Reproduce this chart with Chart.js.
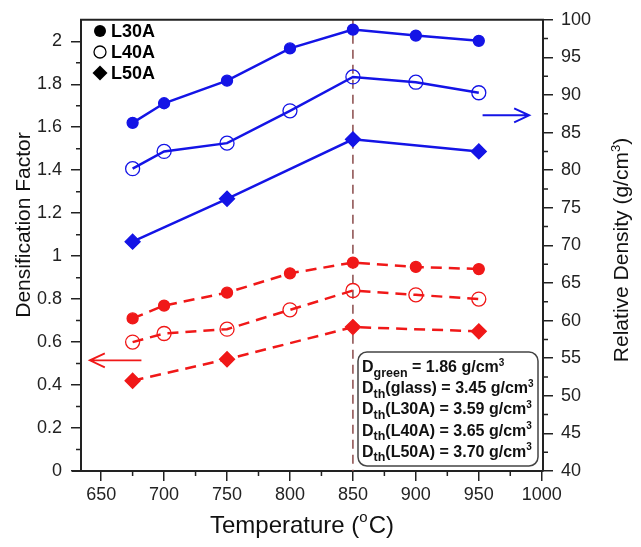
<!DOCTYPE html>
<html>
<head>
<meta charset="utf-8">
<script src="https://cdn.jsdelivr.net/npm/chart.js@4/dist/chart.umd.min.js"></script>
<style>
  html, body { margin: 0; padding: 0; background: #fff; }
  #wrap { width: 641px; height: 547px; }
</style>
</head>
<body>
<div id="wrap"><canvas id="graph"></canvas></div>
<script>
const ctx = document.getElementById('graph').getContext('2d')

// temperatures (x)
const temps = [675, 700, 750, 800, 850, 900, 950]

// relative density, right axis (blue)
const rdL30A = [86.3, 88.9, 91.9, 96.2, 98.7, 97.9, 97.2]
const rdL40A = [80.2, 82.5, 83.6, 87.9, 92.4, 91.7, 90.3]
const rdL50A = [70.5, null, 76.2, null, 84.1, null, 82.5]

// densification factor, left axis (red)
const dfL30A = [0.71, 0.77, 0.83, 0.92, 0.97, 0.95, 0.94]
const dfL40A = [0.60, 0.64, 0.66, 0.75, 0.84, 0.82, 0.80]
const dfL50A = [0.42, null, 0.52, null, 0.67, null, 0.65]

const xTicks = [650, 700, 750, 800, 850, 900, 950, 1000]
const yTicks = [0, 0.2, 0.4, 0.6, 0.8, 1, 1.2, 1.4, 1.6, 1.8, 2]
const y2Ticks = [40, 45, 50, 55, 60, 65, 70, 75, 80, 85, 90, 95, 100]

const legendNames = ['L30A', 'L40A', 'L50A']
const noteLines = [
  [['D'], ['green', 'sub'], [' = 1.86 g/cm'], ['3', 'sup']],
  [['D'], ['th', 'sub'], ['(glass) = 3.45 g/cm'], ['3', 'sup']],
  [['D'], ['th', 'sub'], ['(L30A) = 3.59 g/cm'], ['3', 'sup']],
  [['D'], ['th', 'sub'], ['(L40A) = 3.65 g/cm'], ['3', 'sup']],
  [['D'], ['th', 'sub'], ['(L50A) = 3.70 g/cm'], ['3', 'sup']],
]

const BLUE = '#1414e6'
const RED = '#f01818'
const AXIS = '#222'
const FONT = '"Liberation Sans", Arial, sans-serif'

const pts = (arr) => temps.map((t, i) => ({ x: t, y: arr[i] })).filter(p => p.y !== null)

const STYLES = [
  { pointStyle: 'circle', radius: 5.5, fill: true },
  { pointStyle: 'circle', radius: 7, fill: false },
  { pointStyle: 'rectRot', radius: 7.5, fill: true },
]

function series(arr, i, colour, axis, dashed) {
  const s = STYLES[i]
  return {
    label: legendNames[i],
    data: pts(arr),
    yAxisID: axis,
    borderColor: colour,
    borderWidth: 2.5,
    borderDash: dashed ? [11, 7] : [],
    backgroundColor: colour,
    pointStyle: s.pointStyle,
    pointRadius: s.radius,
    pointBorderWidth: 1.3,
    pointBorderColor: colour,
    pointBackgroundColor: s.fill ? colour : 'rgba(255,255,255,0)',
    tension: 0,
  }
}

function setTicks(list) {
  return (scale) => { scale.ticks = list.map(v => ({ value: v })) }
}

function fmt(v) { return String(Math.round(v * 10) / 10) }

const extras = {
  id: 'extras',
  beforeDatasetsDraw(chart) {
    const { ctx, chartArea: a, scales } = chart
    const x = scales.x.getPixelForValue(850)
    ctx.save()
    ctx.strokeStyle = '#8a4a4a'
    ctx.lineWidth = 1.5
    ctx.setLineDash([9, 6])
    ctx.beginPath()
    ctx.moveTo(x, a.top)
    ctx.lineTo(x, a.bottom)
    ctx.stroke()
    ctx.restore()
  },
  afterDraw(chart) {
    const { ctx, chartArea: a, scales } = chart
    const sx = scales.x, sy = scales.y, sy2 = scales.y2
    ctx.save()

    // top frame line, bottom axis stub to the left
    ctx.strokeStyle = AXIS
    ctx.lineWidth = 2
    ctx.beginPath()
    ctx.moveTo(a.left - 1, a.top)
    ctx.lineTo(a.right + 1, a.top)
    ctx.moveTo(a.left - 9, a.bottom)
    ctx.lineTo(a.left, a.bottom)
    ctx.stroke()

    // minor ticks
    ctx.lineWidth = 1.5
    ctx.beginPath()
    for (let v = 675; v < 1000; v += 50) {
      const px = sx.getPixelForValue(v)
      ctx.moveTo(px, a.bottom); ctx.lineTo(px, a.bottom + 5)
    }
    for (let v = 0.1; v < 2.05; v += 0.2) {
      const py = sy.getPixelForValue(v)
      ctx.moveTo(a.left, py); ctx.lineTo(a.left - 5, py)
    }
    for (let v = 42.5; v < 100; v += 5) {
      const py = sy2.getPixelForValue(v)
      ctx.moveTo(a.right, py); ctx.lineTo(a.right + 5, py)
    }
    ctx.stroke()

    // arrows
    function arrow(x1, x2, py, colour, w) {
      const dir = Math.sign(x2 - x1)
      ctx.strokeStyle = colour
      ctx.lineWidth = w
      ctx.beginPath()
      ctx.moveTo(x1, py); ctx.lineTo(x2, py)
      ctx.moveTo(x2 - dir * 15, py - 7); ctx.lineTo(x2, py); ctx.lineTo(x2 - dir * 15, py + 7)
      ctx.stroke()
    }
    arrow(sx.getPixelForValue(953), sx.getPixelForValue(990), sy2.getPixelForValue(87.3), BLUE, 2)
    arrow(sx.getPixelForValue(682), sx.getPixelForValue(641), sy.getPixelForValue(0.515), RED, 1.8)

    // legend
    const lx = 100
    const ly = [31, 52, 73]
    ctx.fillStyle = '#000'
    ctx.strokeStyle = '#000'
    ctx.lineWidth = 1.3
    ctx.beginPath(); ctx.arc(lx, ly[0], 6, 0, Math.PI * 2); ctx.fill()
    ctx.beginPath(); ctx.arc(lx, ly[1], 6, 0, Math.PI * 2); ctx.stroke()
    ctx.beginPath()
    ctx.moveTo(lx, ly[2] - 7.5); ctx.lineTo(lx + 7.5, ly[2]); ctx.lineTo(lx, ly[2] + 7.5); ctx.lineTo(lx - 7.5, ly[2])
    ctx.closePath(); ctx.fill()
    ctx.font = 'bold 18px ' + FONT
    ctx.textBaseline = 'middle'
    ctx.textAlign = 'left'
    legendNames.forEach((n, i) => ctx.fillText(n, 111, ly[i] + 1))

    // note box
    const bx = 358, by = 352, bw = 180, bh = 114, r = 9
    ctx.strokeStyle = '#444'
    ctx.lineWidth = 1.5
    ctx.beginPath()
    ctx.moveTo(bx + r, by)
    ctx.arcTo(bx + bw, by, bx + bw, by + bh, r)
    ctx.arcTo(bx + bw, by + bh, bx, by + bh, r)
    ctx.arcTo(bx, by + bh, bx, by, r)
    ctx.arcTo(bx, by, bx + bw, by, r)
    ctx.closePath()
    ctx.fillStyle = '#fff'
    ctx.fill()
    ctx.stroke()

    ctx.fillStyle = '#111'
    ctx.textBaseline = 'alphabetic'
    noteLines.forEach((line, i) => {
      let tx = 362
      const base = 372 + i * 21.2
      line.forEach(([t, kind]) => {
        let size = 16, dy = 0
        if (kind === 'sub') { size = 12.5; dy = 4.5 }
        if (kind === 'sup') { size = 10; dy = -6.5 }
        ctx.font = 'bold ' + size + 'px ' + FONT
        ctx.fillText(t, tx, base + dy)
        tx += ctx.measureText(t).width
      })
    })

    // axis titles
    ctx.fillStyle = '#111'
    ctx.textAlign = 'center'
    ctx.textBaseline = 'middle'
    ctx.font = '21px ' + FONT
    ctx.save()
    ctx.translate(24, 225)
    ctx.rotate(-Math.PI / 2)
    ctx.fillText('Densification Factor', 0, 0)
    ctx.restore()

    ctx.save()
    ctx.translate(622, 250)
    ctx.rotate(-Math.PI / 2)
    const rt = 'Relative Density (g/cm'
    ctx.font = '21px ' + FONT
    const w1 = ctx.measureText(rt).width
    ctx.font = '13px ' + FONT
    const w2 = ctx.measureText('3').width
    ctx.font = '21px ' + FONT
    const w3 = ctx.measureText(')').width
    let rx = -(w1 + w2 + w3) / 2
    ctx.textAlign = 'left'
    ctx.fillText(rt, rx, 0); rx += w1
    ctx.font = '13px ' + FONT
    ctx.fillText('3', rx, -6); rx += w2
    ctx.font = '21px ' + FONT
    ctx.fillText(')', rx, 0)
    ctx.restore()

    // x title with superscript o
    ctx.textAlign = 'left'
    const p1 = 'Temperature (', p3 = 'C)'
    ctx.font = '24px ' + FONT
    const a1 = ctx.measureText(p1).width, a3 = ctx.measureText(p3).width
    ctx.font = '15px ' + FONT
    const a2 = ctx.measureText('o').width + 1
    let tx = 302 - (a1 + a2 + a3) / 2
    const ty = 526
    ctx.font = '24px ' + FONT
    ctx.fillText(p1, tx, ty); tx += a1
    ctx.font = '15px ' + FONT
    ctx.fillText('o', tx, ty - 8); tx += a2
    ctx.font = '24px ' + FONT
    ctx.fillText(p3, tx, ty)

    ctx.restore()
  },
}

const tickFont = { family: FONT, size: 18 }

let graph = new Chart(ctx, {
  type: 'line',
  data: {
    datasets: [
      series(rdL30A, 0, BLUE, 'y2', false),
      series(rdL40A, 1, BLUE, 'y2', false),
      series(rdL50A, 2, BLUE, 'y2', false),
      series(dfL30A, 0, RED, 'y', true),
      series(dfL40A, 1, RED, 'y', true),
      series(dfL50A, 2, RED, 'y', true),
    ],
  },
  options: {
    responsive: true,
    maintainAspectRatio: false,
    animation: false,
    layout: { padding: { top: 15, left: 0, right: 0, bottom: 0 } },
    plugins: { legend: { display: false }, tooltip: { enabled: false } },
    scales: {
      x: {
        type: 'linear',
        min: 634,
        max: 1001,
        afterBuildTicks: setTicks(xTicks),
        afterFit: (s) => { s.height = 76 },
        ticks: { font: tickFont, color: AXIS, padding: 3, maxRotation: 0, autoSkip: false, callback: (v) => String(v) },
        grid: { drawOnChartArea: false, tickLength: 10, color: AXIS, lineWidth: 1.5 },
        border: { color: AXIS, width: 2 },
      },
      y: {
        position: 'left',
        min: 0,
        max: 2.1,
        afterBuildTicks: setTicks(yTicks),
        afterFit: (s) => { s.width = 81 },
        ticks: { font: tickFont, color: AXIS, padding: 9, autoSkip: false, callback: fmt },
        grid: { drawOnChartArea: false, tickLength: 10, color: AXIS, lineWidth: 1.5 },
        border: { color: AXIS, width: 2 },
      },
      y2: {
        position: 'right',
        min: 40,
        max: 100,
        afterBuildTicks: setTicks(y2Ticks),
        afterFit: (s) => { s.width = 98 },
        ticks: { font: tickFont, color: AXIS, padding: 8, autoSkip: false, callback: (v) => String(v) },
        grid: { drawOnChartArea: false, tickLength: 10, color: AXIS, lineWidth: 1.5 },
        border: { color: AXIS, width: 2 },
      },
    },
  },
  plugins: [extras],
})
</script>
</body>
</html>
